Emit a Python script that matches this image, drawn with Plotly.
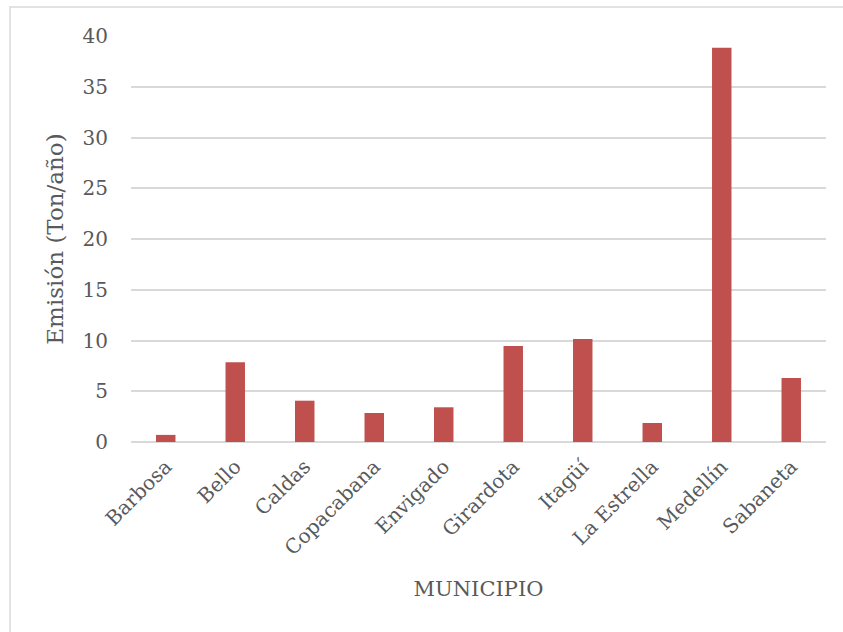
import plotly.graph_objects as go

# Emisiones anuales por municipio (Ton/año)
municipios = ["Barbosa", "Bello", "Caldas", "Copacabana", "Envigado",
              "Girardota", "Itagüí", "La Estrella", "Medellín", "Sabaneta"]
emision = [0.7, 7.85, 4.07, 2.86, 3.42, 9.46, 10.15, 1.87, 38.85, 6.3]
y_ticks = [0, 5, 10, 15, 20, 25, 30, 35, 40]

W, H = 843, 632
L, R, T, B = 131, 17, 36, 190
pw, ph = W - L - R, H - T - B

text_color = "#595959"
grid_color = "#D9D9D9"
font_family = "DejaVu Serif, serif"

fig = go.Figure(go.Bar(
    x=municipios,
    y=emision,
    marker=dict(color="#C0504D", line=dict(width=0)),
))

fig.update_layout(
    width=W, height=H,
    margin=dict(l=L, r=R, t=T, b=B, pad=0),
    paper_bgcolor="white",
    plot_bgcolor="white",
    bargap=0.72,
    showlegend=False,
    font=dict(family=font_family, color=text_color, size=20),
)

fig.update_xaxes(
    tickangle=-45,
    tickfont=dict(size=20, color=text_color),
    showgrid=False,
    showline=False,
    ticks="",
    ticklabelstandoff=8,
    title=dict(text="MUNICIPIO", font=dict(size=21, color=text_color), standoff=22),
)

fig.update_yaxes(
    range=[0, 40],
    tickvals=y_ticks,
    tickfont=dict(size=20, color=text_color),
    showgrid=True,
    gridcolor=grid_color,
    gridwidth=1.5,
    zeroline=True,
    zerolinecolor=grid_color,
    zerolinewidth=1.5,
    showline=False,
    ticks="",
    ticklabelstandoff=22,
    title=dict(text="Emisión (Ton/año)", font=dict(size=23, color=text_color), standoff=12),
)

# Chart-area border
fig.add_shape(
    type="rect", xref="paper", yref="paper",
    x0=(10 - L) / pw, x1=(W + 20 - L) / pw,
    y0=(H - B - (H + 20)) / ph, y1=(H - B - 7) / ph,
    line=dict(color=grid_color, width=1.5),
    fillcolor="rgba(0,0,0,0)",
    layer="below",
)

fig.write_html("out.html")
